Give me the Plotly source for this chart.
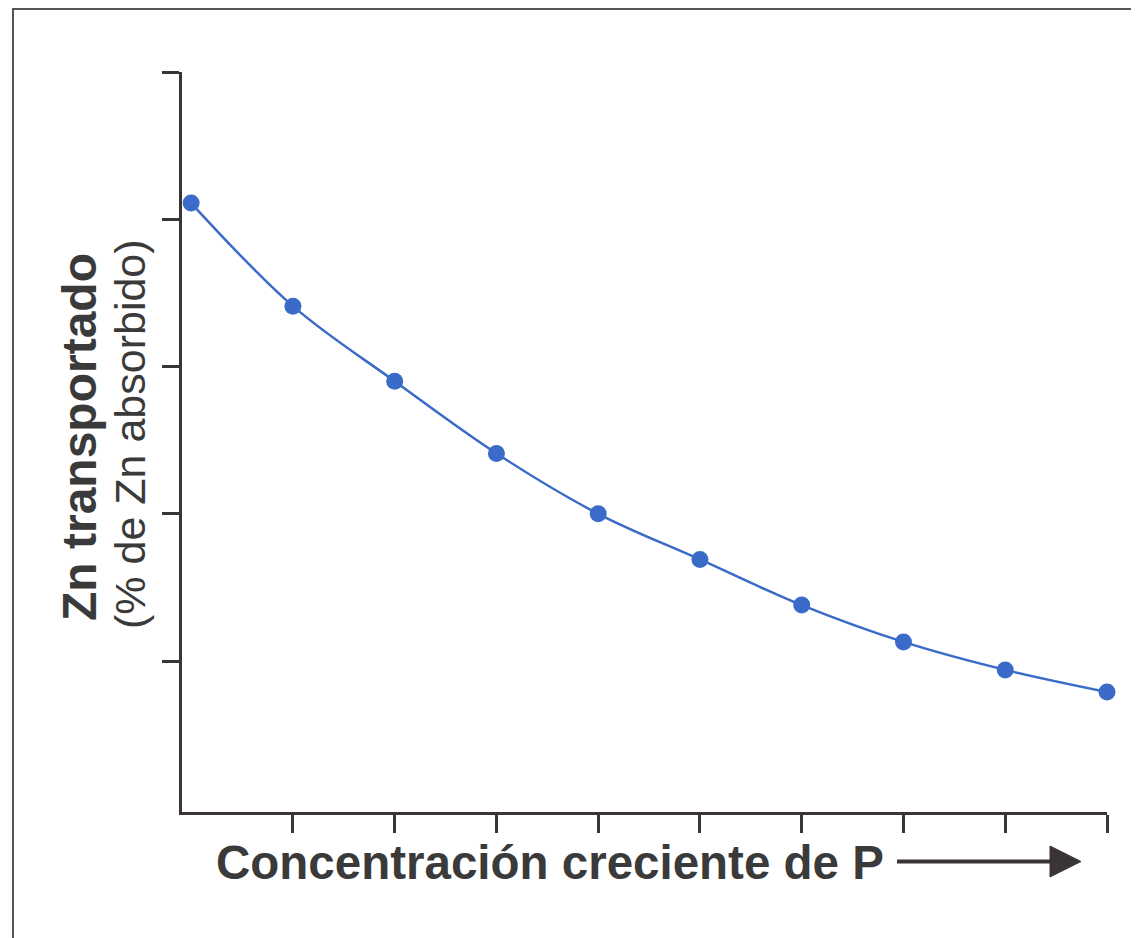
import plotly.graph_objects as go

# concentración de P (posiciones relativas) y Zn transportado (unidades relativas)
conc_p = [0, 1, 2, 3, 4, 5, 6, 7, 8, 9]
zn_transportado = [4.11, 3.41, 2.90, 2.41, 2.00, 1.69, 1.38, 1.13, 0.94, 0.79]

x_ticks = [1, 2, 3, 4, 5, 6, 7, 8, 9]
y_ticks = [1, 2, 3, 4, 5]

axis_color = "#3b3436"
text_color = "#3a3a3a"
blue = "#3a6bc8"

# la página añade 8px de margen al cuerpo
OFF = 8
W, H = 1139, 938
L, R, T, B = 182 - OFF, W - (1107 - OFF), 72 - OFF, H - (812 - OFF)
pw, ph = W - L - R, H - T - B


def px(x):
    return (x - OFF - L) / pw


def py(y):
    return (H - B - (y - OFF)) / ph


fig = go.Figure()
fig.add_trace(go.Scatter(
    x=conc_p, y=zn_transportado, mode="lines+markers",
    line=dict(color=blue, width=2.5, shape="spline", smoothing=1),
    marker=dict(color=blue, size=17),
    cliponaxis=False, showlegend=False, hoverinfo="skip",
))

fig.update_xaxes(
    range=[-0.09, 9], showline=True, linewidth=3, linecolor=axis_color,
    ticks="outside", tickvals=x_ticks, ticklen=18, tickwidth=3, tickcolor=axis_color,
    showticklabels=False, showgrid=False, zeroline=False,
)
fig.update_yaxes(
    range=[-0.025, 5], showline=True, linewidth=3, linecolor=axis_color,
    ticks="outside", tickvals=y_ticks, ticklen=17, tickwidth=3, tickcolor=axis_color,
    showticklabels=False, showgrid=False, zeroline=False,
)

font = "Liberation Sans, Arial, sans-serif"
annotations = [
    dict(text="<b>Concentración creciente de P</b>", x=px(550), y=py(862),
         font=dict(size=47.5, color=text_color, family=font)),
    dict(text="<b>Zn transportado</b>", x=px(80), y=py(437), textangle=-90,
         font=dict(size=48, color=text_color, family=font)),
    dict(text="(% de Zn absorbido)", x=px(130), y=py(434), textangle=-90,
         font=dict(size=43, color=text_color, family=font)),
]
for a in annotations:
    a.update(xref="paper", yref="paper", showarrow=False, xanchor="center", yanchor="middle")

shapes = [
    # flecha junto al título del eje x
    dict(type="line", x0=px(897), x1=px(1052), y0=py(861.5), y1=py(861.5),
         line=dict(color=axis_color, width=4)),
    dict(type="path",
         path=f"M {px(1050)},{py(846)} L {px(1081)},{py(861.5)} L {px(1050)},{py(877)} Z",
         fillcolor=axis_color, line=dict(color=axis_color, width=1)),
    # marco de la figura
    dict(type="line", x0=px(13), x1=px(1147), y0=py(9), y1=py(9),
         line=dict(color="#555555", width=2)),
    dict(type="line", x0=px(13), x1=px(13), y0=py(8), y1=py(946),
         line=dict(color="#555555", width=2)),
]
for s in shapes:
    s.update(xref="paper", yref="paper")

fig.update_layout(
    width=W, height=H,
    margin=dict(l=L, r=R, t=T, b=B),
    plot_bgcolor="white", paper_bgcolor="white",
    annotations=annotations, shapes=shapes,
)

fig.write_html("out.html")
